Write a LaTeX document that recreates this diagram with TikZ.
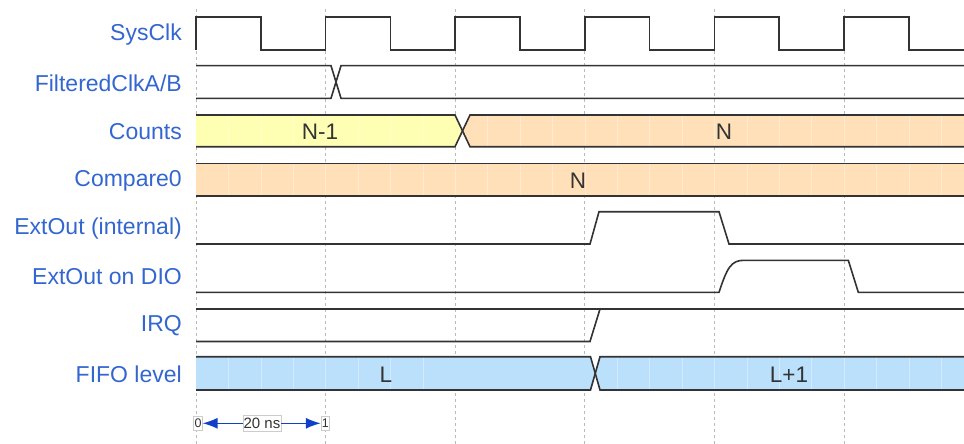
\documentclass[tikz,border=0pt]{standalone}
\usepackage{fontspec}
\setmainfont{Liberation Sans}
\usetikzlibrary{arrows.meta}
\definecolor{lblblue}{HTML}{3366D0}
\definecolor{sig}{HTML}{333333}
\definecolor{yfill}{HTML}{FFFFB4}
\definecolor{ofill}{HTML}{FFE0B8}
\definecolor{bfill}{HTML}{BBE0FB}
\definecolor{gridc}{HTML}{BBBBBB}
\definecolor{arrblue}{HTML}{1040C8}
\begin{document}
\begin{tikzpicture}[x=1pt,y=-1pt,
  lbl/.style={anchor=east,text=lblblue,font=\fontsize{23}{26}\selectfont,inner sep=0pt},
  val/.style={text=sig,font=\fontsize{22.5}{25}\selectfont,inner sep=0pt},
  wave/.style={draw=sig,line width=1.6pt,line join=miter},
  gridln/.style={draw=gridc,line width=1pt,dash pattern=on 3pt off 3pt},
  faint/.style={draw=white,line width=0.6pt,opacity=0.35},
  scalebox/.style={draw=gray!40,fill=white,line width=0.6pt,text=sig,inner sep=0.8pt},
  scalearrow/.style={draw=arrblue,line width=1.4pt,-{Latex[length=15pt,width=11pt]}}]
\useasboundingbox (0,0) rectangle (964,444);
% grid lines
\foreach \k in {0,...,5}{
  \draw[gridln] ({196+129.6*\k},9) -- ({196+129.6*\k},444);
}
% fills
\fill[yfill] (196,115) -- (455,115) -- (462.5,131) -- (455,146.7) -- (196,146.7) -- cycle;
\fill[ofill] (462.5,131) -- (470,115) -- (964,115) -- (964,146.7) -- (470,146.7) -- cycle;
\fill[ofill] (196,163.3) rectangle (964,195.7);
\fill[bfill] (196,356.7) -- (590.5,356.7) -- (595.3,373.3) -- (590.5,390) -- (196,390) -- cycle;
\fill[bfill] (595.3,373.3) -- (600,356.7) -- (964,356.7) -- (964,390) -- (600,390) -- cycle;
% faint lines in buses
\foreach \k in {1,...,23}{
  \pgfmathsetmacro{\xx}{196+32.4*\k}
  \draw[faint] (\xx,163.3) -- (\xx,195.7);
}
\foreach \k in {1,...,7}{
  \pgfmathsetmacro{\xx}{196+32.4*\k}
  \draw[faint] (\xx,115) -- (\xx,146.7);
  \draw[faint] (\xx,356.7) -- (\xx,390);
}
\foreach \k in {9,...,23}{
  \pgfmathsetmacro{\xx}{196+32.4*\k}
  \draw[faint] (\xx,115) -- (\xx,146.7);
}
\foreach \k in {13,...,23}{
  \pgfmathsetmacro{\xx}{196+32.4*\k}
  \draw[faint] (\xx,356.7) -- (\xx,390);
}
% labels
\node[lbl] (lsys) at (182,35) {SysClk};
\node[lbl] (lfilt) at (182,83) {FilteredClkA/B};
\node[lbl] (lcnt) at (182,132) {Counts};
\node[lbl] (lcmp) at (182,180.5) {Compare0};
\node[lbl] (lext) at (182,229) {ExtOut (internal)};
\node[lbl] (ldio) at (182,277) {ExtOut on DIO};
\node[lbl] (lirq) at (182,326) {IRQ};
\node[lbl] (lfifo) at (182,374.5) {FIFO level};
% SysClk
\draw[wave] (196,50)
  \foreach \k in {0,...,5}{
    -- ({196+129.6*\k},17.3) -- ({260.8+129.6*\k},17.3) -- ({260.8+129.6*\k},50) -- ({325.6+129.6*\k},50)
  } -- (964,50);
% FilteredClkA/B
\draw[wave] (196,65.7) -- (331,65.7) -- (341,98.3) -- (964,98.3);
\draw[wave] (196,98.3) -- (331,98.3) -- (341,65.7) -- (964,65.7);
% Counts
\draw[wave] (196,115) -- (455,115) -- (470,146.7) -- (964,146.7);
\draw[wave] (196,146.7) -- (455,146.7) -- (470,115) -- (964,115);
\node[val] (vcnt1) at (320,132) {N-1};
\node[val] (vcnt2) at (724,132) {N};
% Compare0
\draw[wave] (196,163.3) -- (964,163.3);
\draw[wave] (196,195.7) -- (964,195.7);
\node[val] (vcmp) at (578,180.5) {N};
% ExtOut internal
\draw[wave] (196,244) -- (590,244) -- (599,211.7) -- (719,211.7) -- (729,244) -- (964,244);
% ExtOut on DIO
\draw[wave] (196,292.3) -- (719,292.3) .. controls (727,268) and (731,260.3) .. (744,260.3) -- (848.3,260.3) -- (858.3,292.3) -- (964,292.3);
% IRQ
\draw[wave] (196,309) -- (964,309);
\draw[wave] (196,341.5) -- (590,341.5) -- (600,309);
% FIFO
\draw[wave] (196,356.7) -- (590.5,356.7) -- (600,390) -- (964,390);
\draw[wave] (196,390) -- (590.5,390) -- (600,356.7) -- (964,356.7);
\node[val] (vf1) at (386,374.5) {L};
\node[val] (vf2) at (789,374.5) {L+1};
% scale
\node[scalebox,font=\fontsize{12.5}{13}\selectfont,minimum height=14.5pt,minimum width=7.5pt] (s0) at (198,423.3) {0};
\node[scalebox,font=\fontsize{12.5}{13}\selectfont,minimum height=14.5pt,minimum width=7.5pt] (s1) at (325.4,423.3) {1};
\node[scalebox,font=\fontsize{15}{16}\selectfont,minimum height=16pt] (sns) at (262,423.3) {20 ns};
\draw[scalearrow] (sns.west) -- (s0.east);
\draw[scalearrow] (sns.east) -- (s1.west);
\end{tikzpicture}
\end{document}
